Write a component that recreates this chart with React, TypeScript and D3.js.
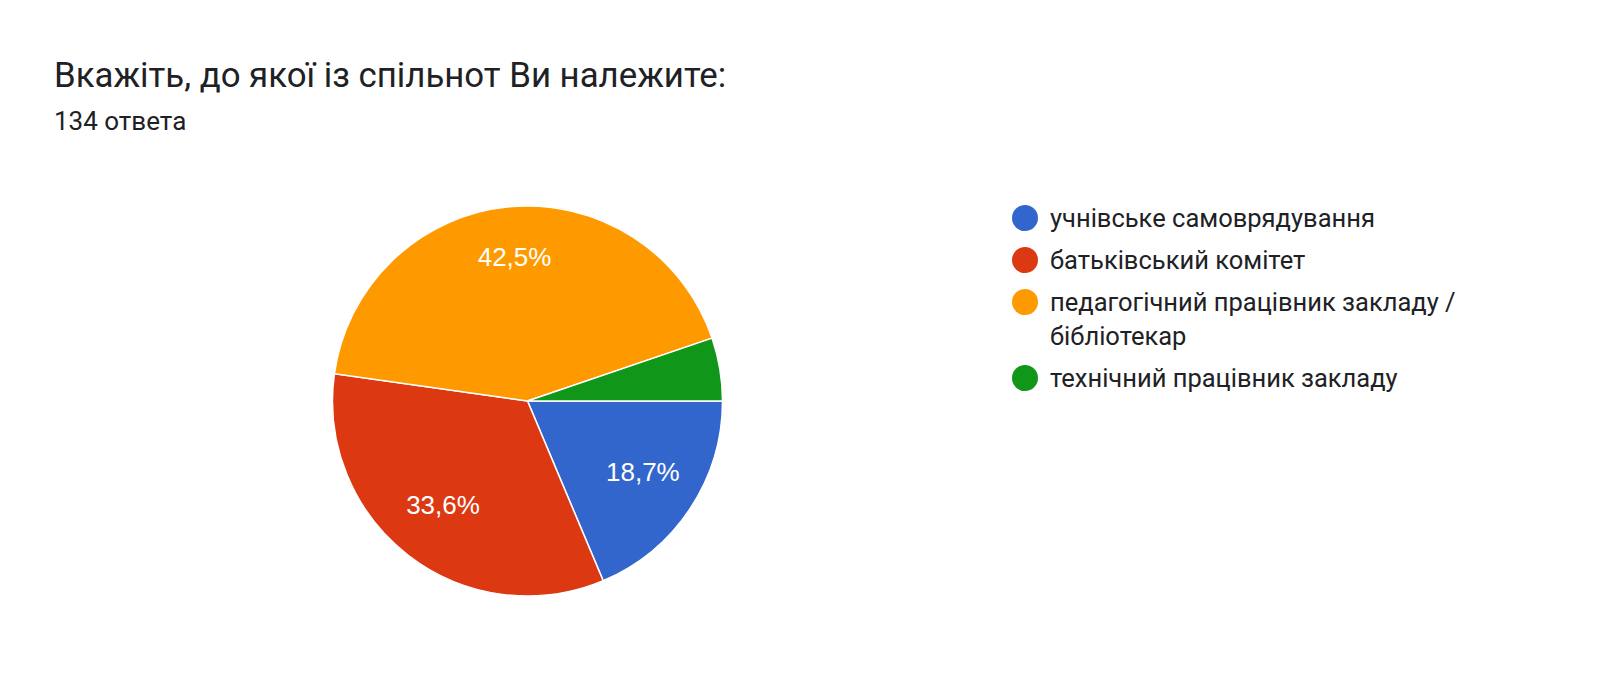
import { useEffect, useRef } from 'react'
import * as d3 from 'd3'

const title = 'Вкажіть, до якої із спільнот Ви належите:'
const subtitle = '134 ответа'

const categories = [
  'учнівське самоврядування',
  'батьківський комітет',
  'педагогічний працівник закладу / бібліотекар',
  'технічний працівник закладу',
]
const counts = [25, 45, 57, 7]
const colors = ['#3366cc', '#dc3912', '#ff9900', '#109618']

const WIDTH = 1600
const HEIGHT = 673

export default function App() {
  const svgRef = useRef<SVGSVGElement>(null)

  useEffect(() => {
    if (!svgRef.current) return
    const svg = d3.select(svgRef.current)
    svg.selectAll('*').remove()

    const font = 'Roboto, "Noto Sans", sans-serif'

    // Title
    svg.append('text')
      .attr('x', 54)
      .attr('y', 87)
      .style('font-family', font)
      .style('font-size', '34.8px')
      .style('fill', '#202124')
      .text(title)

    svg.append('text')
      .attr('x', 54)
      .attr('y', 130)
      .style('font-family', font)
      .style('font-size', '26px')
      .style('fill', '#202124')
      .text(subtitle)

    // Pie
    const cx = 527.5
    const cy = 401
    const radius = 195
    const total = d3.sum(counts)

    const pie = d3.pie<number>()
      .sort(null)
      .startAngle(Math.PI / 2)
      .endAngle(Math.PI / 2 + 2 * Math.PI)

    const arcs = pie(counts)
    const arc = d3.arc<d3.PieArcDatum<number>>().innerRadius(0).outerRadius(radius)
    const labelArc = d3.arc<d3.PieArcDatum<number>>()
      .innerRadius(radius * 0.71)
      .outerRadius(radius * 0.71)

    const g = svg.append('g').attr('transform', `translate(${cx}, ${cy})`)

    g.selectAll('path')
      .data(arcs)
      .enter()
      .append('path')
      .attr('d', arc)
      .attr('fill', (_, i) => colors[i])
      .attr('stroke', '#ffffff')
      .attr('stroke-width', 1.5)

    const fmt = (v: number) => (v / total * 100).toFixed(1).replace('.', ',') + '%'

    g.selectAll('text.pct')
      .data(arcs.filter(d => d.data / total > 0.1))
      .enter()
      .append('text')
      .attr('class', 'pct')
      .attr('transform', d => `translate(${labelArc.centroid(d)})`)
      .attr('text-anchor', 'middle')
      .attr('dy', '0.12em')
      .style('font-family', 'Arial, "Liberation Sans", sans-serif')
      .style('font-size', '26px')
      .style('fill', '#ffffff')
      .text(d => fmt(d.data))

    // Legend
    const legend = svg.append('g').attr('transform', 'translate(1025, 218)')
    const maxTextWidth = 420
    const rowGap = 42
    const lineHeight = 34
    let y = 0

    categories.forEach((cat, i) => {
      const item = legend.append('g').attr('transform', `translate(0, ${y})`)
      item.append('circle')
        .attr('r', 13)
        .attr('fill', colors[i])

      const text = item.append('text')
        .attr('x', 25)
        .attr('y', 9)
        .style('font-family', font)
        .style('font-size', '25.5px')
        .style('fill', '#202124')

      // simple word wrap
      const words = cat.split(' ')
      let line: string[] = []
      let lineNo = 0
      let tspan = text.append('tspan').attr('x', 25).attr('dy', 0)
      words.forEach(w => {
        line.push(w)
        tspan.text(line.join(' '))
        if ((tspan.node() as SVGTSpanElement).getComputedTextLength() > maxTextWidth && line.length > 1) {
          line.pop()
          tspan.text(line.join(' '))
          line = [w]
          lineNo++
          tspan = text.append('tspan').attr('x', 25).attr('dy', lineHeight).text(w)
        }
      })
      y += rowGap + lineNo * lineHeight
    })
  }, [])

  return (
    <div style={{ position: 'absolute', left: 0, top: 0, width: WIDTH, height: HEIGHT, background: '#fff' }}>
      <svg ref={svgRef} width={WIDTH} height={HEIGHT} style={{ display: 'block' }} />
    </div>
  )
}
